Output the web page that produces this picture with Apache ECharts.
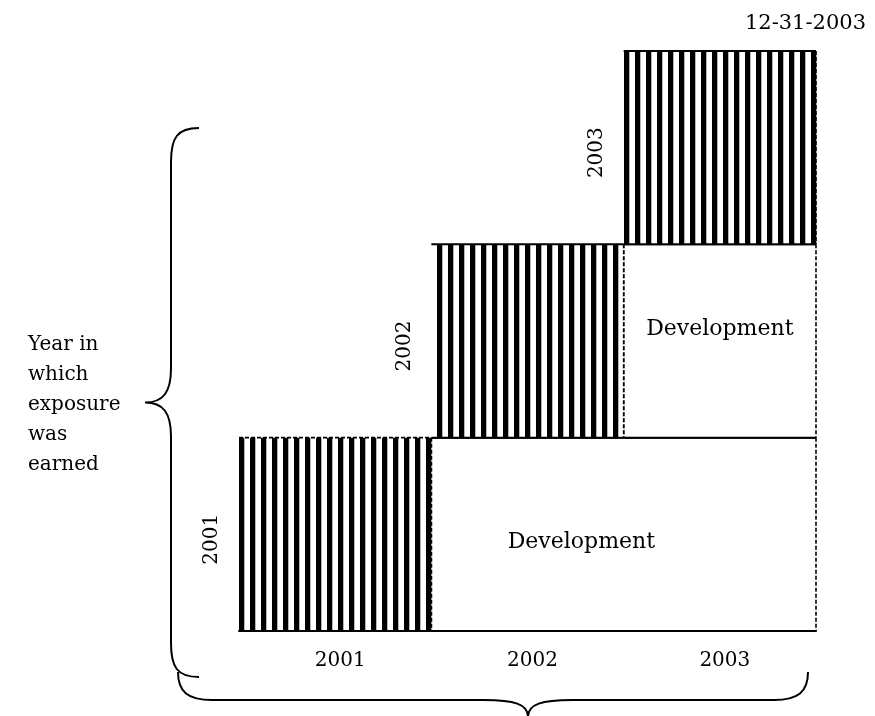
<!DOCTYPE html>
<html><head><meta charset="utf-8">
<script src="https://cdn.jsdelivr.net/npm/echarts@6/dist/echarts.min.js"></script>
<style>html,body{margin:0;padding:0;background:#fff}#c{width:875px;height:716px}</style>
</head><body><div id="c"></div>
<script>
// ---- data ----
const devYears = ['2001', '2002', '2003'];          // development years (x categories)
const expYears = ['2001', '2002', '2003'];          // exposure years (rows)
const evalDate = '12-31-2003';
const sideLabel = ['Year in', 'which', 'exposure', 'was', 'earned'];
// earned (striped) cells: development-year index, exposure-year index
const earnedCol = [0, 1, 2];
const earnedRow = [0, 1, 2];
// development cells: first dev index, last dev index, exposure row
const devFrom = [1, 2];
const devTo = [2, 2];
const devRow = [0, 1];
const devText = ['Development', 'Development'];

// ---- styling / layout (not data) ----
const FONT = '"DejaVu Serif", "Liberation Serif", serif';
const devLabelFx = [0.39, 0.5];
const devLabelFy = [0.54, 0.44];
const STRIPE_P = 11, STRIPE_W = 5;

function seg(x1, y1, x2, y2, dashed) {
  return { type: 'line', shape: { x1, y1, x2, y2 },
    style: { stroke: '#000', lineWidth: dashed ? 1.6 : 2, lineDash: dashed ? [4, 2] : null } };
}

function cellBox(api, c0, c1, row) {
  const band = api.size([1, 0])[0];
  const unitH = api.size([0, 1])[1];
  const a = api.coord([c0, row]);
  const b = api.coord([c1, row]);
  return { x0: a[0] - band / 2, x1: b[0] + band / 2, yB: a[1], yT: a[1] - unitH, band };
}

function renderEarned(params, api) {
  const col = api.value(0), row = api.value(1);
  const bx = cellBox(api, col, col, row);
  const origin = api.coord([0, 0])[0] - bx.band / 2;
  const ch = [];
  ch.push({ type: 'rect', shape: { x: bx.x0, y: bx.yT, width: bx.x1 - bx.x0, height: bx.yB - bx.yT }, style: { fill: '#fff' } });
  let k = Math.ceil((bx.x0 - origin - 0.5) / STRIPE_P);
  for (let sx = origin + k * STRIPE_P; sx < bx.x1 - 1.5; sx += STRIPE_P) {
    const w = Math.min(STRIPE_W, bx.x1 - sx);
    ch.push({ type: 'rect', shape: { x: sx, y: bx.yT, width: w, height: bx.yB - bx.yT }, style: { fill: '#000' } });
    ch.push({ type: 'rect', shape: { x: sx + w, y: bx.yT, width: 1, height: bx.yB - bx.yT }, style: { fill: '#b5b5b5' } });
  }
  ch.push(seg(bx.x0, bx.yT, bx.x1, bx.yT, row === 0));
  ch.push(seg(bx.x1, bx.yT, bx.x1, bx.yB, true));
  ch.push(seg(bx.x0, bx.yB, bx.x1, bx.yB, false));
  ch.push({ type: 'text', x: bx.x0 - 27, y: (bx.yT + bx.yB) / 2 + 5, rotation: Math.PI / 2,
    style: { text: expYears[row], font: '20px ' + FONT, fill: '#000', align: 'center', verticalAlign: 'middle' } });
  return { type: 'group', children: ch };
}

function renderDev(params, api) {
  const i = params.dataIndex;
  const bx = cellBox(api, api.value(0), api.value(1), api.value(2));
  const ch = [];
  ch.push({ type: 'rect', shape: { x: bx.x0, y: bx.yT, width: bx.x1 - bx.x0, height: bx.yB - bx.yT }, style: { fill: '#fff' } });
  ch.push(seg(bx.x0, bx.yT, bx.x1, bx.yT, false));
  ch.push(seg(bx.x0, bx.yB, bx.x1, bx.yB, false));
  ch.push(seg(bx.x0, bx.yT, bx.x0, bx.yB, true));
  ch.push(seg(bx.x1, bx.yT, bx.x1, bx.yB, true));
  ch.push({ type: 'text', x: bx.x0 + devLabelFx[i] * (bx.x1 - bx.x0), y: bx.yT + devLabelFy[i] * (bx.yB - bx.yT),
    style: { text: devText[i], font: '22px ' + FONT, fill: '#000', align: 'center', verticalAlign: 'middle' } });
  return { type: 'group', children: ch };
}

function renderBraces(params, api) {
  const band = api.size([1, 0])[0];
  const gl = api.coord([0, 0])[0] - band / 2;
  const gb = api.coord([0, 0])[1];
  // left brace
  const lx = gl - 94, top = gb - 503, bot = gb + 46, mid = (top + bot) / 2, vx = lx + 26, ex = lx + 54;
  const left = `M ${ex} ${top} C ${vx + 6} ${top} ${vx} ${top + 10} ${vx} ${top + 34} L ${vx} ${mid - 34} C ${vx} ${mid - 10} ${vx - 8} ${mid} ${lx} ${mid} C ${vx - 8} ${mid} ${vx} ${mid + 10} ${vx} ${mid + 34} L ${vx} ${bot - 34} C ${vx} ${bot - 10} ${vx + 6} ${bot} ${ex} ${bot}`;
  // bottom brace
  const bx0 = gl - 61, bx1 = gl + 569, tipX = gl + 289, hy = gb + 69, ey = gb + 41, ty = gb + 86;
  const bottom = `M ${bx0} ${ey} C ${bx0} ${hy - 8} ${bx0 + 10} ${hy} ${bx0 + 34} ${hy} L ${tipX - 44} ${hy} C ${tipX - 14} ${hy} ${tipX} ${hy + 4} ${tipX} ${ty} C ${tipX} ${hy + 4} ${tipX + 14} ${hy} ${tipX + 44} ${hy} L ${bx1 - 34} ${hy} C ${bx1 - 10} ${hy} ${bx1} ${hy - 8} ${bx1} ${ey}`;
  return { type: 'group', children: [
    { type: 'path', shape: { pathData: left }, style: { fill: null, stroke: '#000', lineWidth: 2 } },
    { type: 'path', shape: { pathData: bottom }, style: { fill: null, stroke: '#000', lineWidth: 2 } }
  ] };
}

const chart = echarts.init(document.getElementById('c'), null, { renderer: 'canvas' });
chart.setOption({
  animation: false,
  backgroundColor: '#fff',
  title: { text: evalDate, right: 4, top: 8,
    textStyle: { fontFamily: FONT, fontSize: 21, fontWeight: 'normal', color: '#000' } },
  grid: { left: 239, right: 59, top: 51, bottom: 85, containLabel: false },
  xAxis: { type: 'category', data: devYears,
    axisLine: { show: true, lineStyle: { color: '#000', width: 2 } },
    axisTick: { show: false },
    axisLabel: { fontFamily: FONT, fontSize: 20, color: '#000', margin: 20, padding: [0, 0, 0, 10] },
    splitLine: { show: false } },
  yAxis: { type: 'value', min: 0, max: 3, show: false },
  graphic: [{ type: 'text', left: 28, top: 330,
    style: { text: sideLabel.join('\n'), font: '20px ' + FONT, lineHeight: 30, fill: '#000' } }],
  series: [
    { type: 'custom', name: 'development', clip: false, silent: true, renderItem: renderDev,
      data: devFrom.map((f, i) => [f, devTo[i], devRow[i]]) },
    { type: 'custom', name: 'earned', clip: false, silent: true, renderItem: renderEarned,
      data: earnedCol.map((c, i) => [c, earnedRow[i]]) },
    { type: 'custom', name: 'braces', clip: false, silent: true, renderItem: renderBraces,
      data: [[0, 0]] }
  ]
});
</script></body></html>
